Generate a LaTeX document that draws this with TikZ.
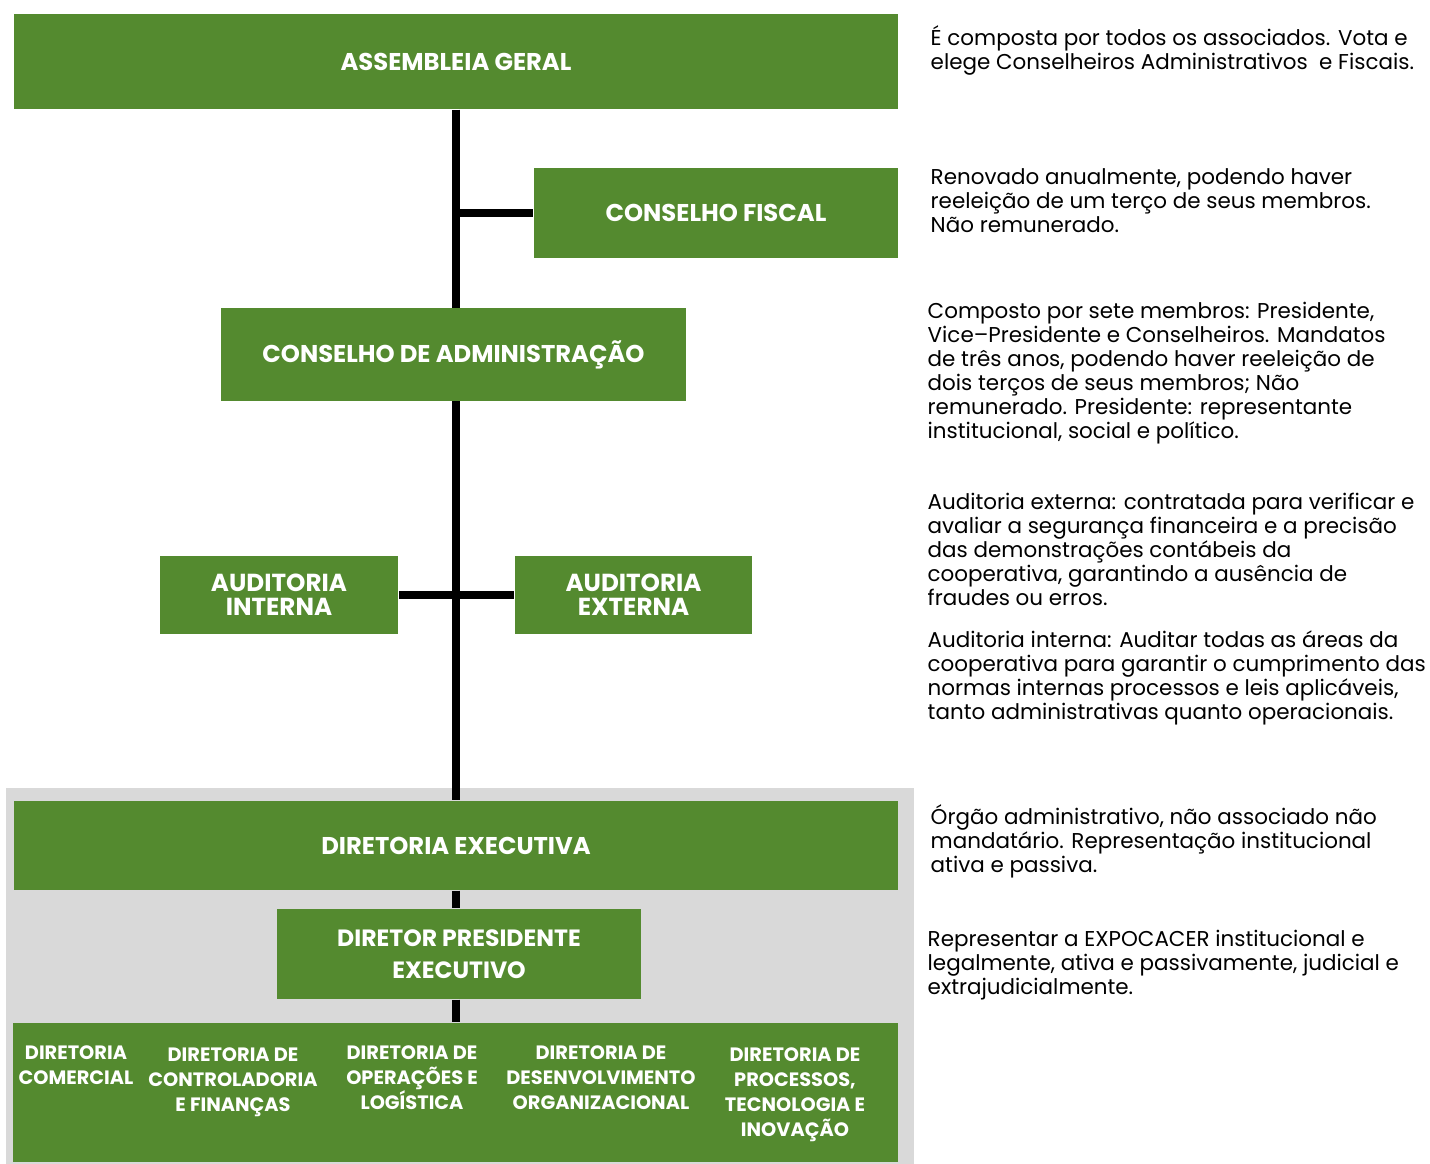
\documentclass[tikz,border=0pt]{standalone}
\usepackage{fontspec}
\setmainfont{Poppins}
\usetikzlibrary{calc,backgrounds}
\definecolor{orggreen}{RGB}{84,138,47}
\definecolor{panelgray}{RGB}{217,217,217}
\def\drawlink{\draw[color=black, line width=2pt]}
\def\notenode{\node[anchor=north west,align=left,inner sep=0pt,font=\fontsize{6.1}{6.83}\selectfont]}
\tikzset{
  orgbox/.style={fill=orggreen,text=white,inner sep=0pt,align=center,
    font=\bfseries\fontsize{6.9}{6.8}\selectfont},
  audbox/.style={orgbox,font=\bfseries\fontsize{7}{6.83}\selectfont},
  dirtext/.style={anchor=north,text=white,inner sep=0pt,align=center,
    font=\bfseries\fontsize{5.5}{7.1}\selectfont}
}

\begin{document}
\begin{tikzpicture}[x=0.01cm,y=-0.01cm]
\useasboundingbox (0,0) rectangle (1430,1164);

% -------- governance column ---------
\node[orgbox,minimum width=8.84cm,minimum height=0.95cm] (ag) at (456,61.5) {ASSEMBLEIA GERAL};
\node[orgbox,minimum width=3.64cm,minimum height=0.90cm] (cf) at (716,213) {CONSELHO FISCAL};
\node[orgbox,minimum width=4.65cm,minimum height=0.93cm] (ca) at (453.5,354.5) {CONSELHO DE ADMINISTRAÇÃO};
\node[audbox,minimum width=2.38cm,minimum height=0.78cm] (ai) at (279,595) {AUDITORIA\\INTERNA};
\node[audbox,minimum width=2.37cm,minimum height=0.78cm] (ae) at (633.5,595) {AUDITORIA\\EXTERNA};
% ------ end governance column ------

% -------- executive panel ---------
\node[orgbox,minimum width=8.84cm,minimum height=0.89cm] (de) at (456,845.5) {DIRETORIA EXECUTIVA};
\node[orgbox,minimum width=3.64cm,minimum height=0.90cm,
  font=\bfseries\fontsize{6.7}{9.1}\selectfont] (dpe) at (459,954) {DIRETOR PRESIDENTE\\EXECUTIVO};
\node[orgbox,minimum width=8.85cm,minimum height=1.39cm] (dirs) at (455.5,1092.5) {};
\node[dirtext] (dcom) at (76,1045) {DIRETORIA\\COMERCIAL};
\node[dirtext] (dcf) at (233,1047) {DIRETORIA DE\\CONTROLADORIA\\E FINANÇAS};
\node[dirtext] (dol) at (412,1045) {DIRETORIA DE\\OPERAÇÕES E\\LOGÍSTICA};
\node[dirtext] (ddo) at (601,1045) {DIRETORIA DE\\DESENVOLVIMENTO\\ORGANIZACIONAL};
\node[dirtext] (dpti) at (795,1047) {DIRETORIA DE\\PROCESSOS,\\TECNOLOGIA E\\INOVAÇÃO};
% ------ end executive panel ------

\begin{pgfonlayer}{background}
\node[fill=panelgray,inner sep=0pt,minimum width=9.08cm,minimum height=3.76cm] (panel) at (460,976) {};
\drawlink (ag.south) -- (de.north);
\drawlink (ag.south |- cf.west) -- (cf.west);
\drawlink (ai.east) -- (ae.west);
\drawlink (de.south) -- (de.south |- dpe.north);
\drawlink (dpe.south -| de.south) -- (dirs.north -| de.south);
\end{pgfonlayer}

% notes on the right
\notenode (nag) at (930,25) {É composta por todos os associados. Vota e\\elege Conselheiros Administrativos\ \ e Fiscais.};
\notenode (ncf) at (930,168) {Renovado anualmente, podendo haver\\reeleição de um terço de seus membros.\\Não remunerado.};
\notenode (nca) at (927,301) {Composto por sete membros: Presidente,\\Vice–Presidente e Conselheiros. Mandatos\\de três anos, podendo haver reeleição de\\dois terços de seus membros; Não\\remunerado. Presidente: representante\\institucional, social e político.};
\notenode (nae) at (927,492) {Auditoria externa: contratada para verificar e\\avaliar a segurança financeira e a precisão\\das demonstrações contábeis da\\cooperativa, garantindo a ausência de\\fraudes ou erros.};
\notenode (nai) at (927,630) {Auditoria interna: Auditar todas as áreas da\\cooperativa para garantir o cumprimento das\\normas internas processos e leis aplicáveis,\\tanto administrativas quanto operacionais.};
\notenode (nde) at (930,804) {Órgão administrativo, não associado não\\mandatário. Representação institucional\\ativa e passiva.};
\notenode (ndpe) at (927,929) {Representar a EXPOCACER institucional e\\legalmente, ativa e passivamente, judicial e\\extrajudicialmente.};
\end{tikzpicture}
\end{document}
